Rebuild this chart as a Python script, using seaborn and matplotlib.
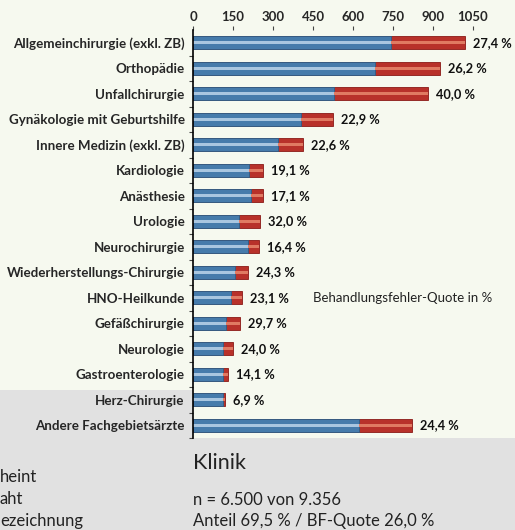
import numpy as np
import pandas as pd
import seaborn as sns

import matplotlib

matplotlib.use("Agg")
import matplotlib.pyplot as plt
from matplotlib.patches import Rectangle
from matplotlib.ticker import FixedLocator

# Fachgebiete and counts (blue = no error, red = error confirmed)
fachgebiete = [
    "Allgemeinchirurgie (exkl. ZB)",
    "Orthopädie",
    "Unfallchirurgie",
    "Gynäkologie mit Geburtshilfe",
    "Innere Medizin (exkl. ZB)",
    "Kardiologie",
    "Anästhesie",
    "Urologie",
    "Neurochirurgie",
    "Wiederherstellungs-Chirurgie",
    "HNO-Heilkunde",
    "Gefäßchirurgie",
    "Neurologie",
    "Gastroenterologie",
    "Herz-Chirurgie",
    "Andere Fachgebietsärzte",
]
ohne_fehler = [741, 683, 529, 405, 320, 211, 217, 171, 207, 156, 141, 124, 114, 113, 111, 622]
mit_fehler = [279, 242, 353, 121, 93, 50, 45, 80, 41, 50, 42, 52, 36, 18, 8, 201]
quote_labels = ["27,4 %", "26,2 %", "40,0 %", "22,9 %", "22,6 %", "19,1 %", "17,1 %", "32,0 %",
                "16,4 %", "24,3 %", "23,1 %", "29,7 %", "24,0 %", "14,1 %", "6,9 %", "24,4 %"]
x_ticks = [0, 150, 300, 450, 600, 750, 900, 1050]

df = pd.DataFrame({"fach": fachgebiete, "blau": ohne_fehler, "rot": mit_fehler})
df["gesamt"] = df["blau"] + df["rot"]

sns.set_style("white")
plt.rcParams["font.family"] = ["Lato", "DejaVu Sans"]

W, H = 515, 530
fig = plt.figure(figsize=(W / 100, H / 100), dpi=100, facecolor="#f6f9ef")

# grey slide area at the bottom (behind the axes)
gray = "#e1e1e1"
fig.patches.append(Rectangle((0, 0), 1, 1 - 438 / H, transform=fig.transFigure,
                             facecolor=gray, edgecolor="none", zorder=-5))
fig.patches.append(Rectangle((0, 1 - 438 / H), 193 / W, 48 / H, transform=fig.transFigure,
                             facecolor=gray, edgecolor="none", zorder=-5))

ax = fig.add_axes([193 / W, 1 - 438 / H, 300 / W, 408 / H])
ax.set_facecolor("none")
ax.set_zorder(2)

bw = 0.5
# base cylinders: total in red, blue on top
sns.barplot(data=df, y="fach", x="gesamt", orient="h", color="#b8312a", width=bw,
            saturation=1, ax=ax, edgecolor="#8a1a16", linewidth=0.6)
sns.barplot(data=df, y="fach", x="blau", orient="h", color="#467bab", width=bw,
            saturation=1, ax=ax, edgecolor="#2e5d86", linewidth=0.6)
# highlight stripes for the tube look
sns.barplot(data=df, y="fach", x="gesamt", orient="h", color="#e07a62", width=0.12,
            saturation=1, ax=ax, linewidth=0)
sns.barplot(data=df, y="fach", x="blau", orient="h", color="#a9c6e0", width=0.12,
            saturation=1, ax=ax, linewidth=0)

for i, (tot, lab) in enumerate(zip(df["gesamt"], quote_labels)):
    ax.text(tot + 30, i, lab, va="center", ha="left", fontsize=9.2, fontweight="bold",
            color="#111111")

ax.text(450, 10, "Behandlungsfehler-Quote in %", va="center", ha="left",
        fontsize=9.5, color="#222222")

ax.set_xlim(0, 1125)
ax.set_ylim(15.5, -0.5)
ax.set_xlabel("")
ax.set_ylabel("")
ax.xaxis.tick_top()
ax.xaxis.set_major_locator(FixedLocator(x_ticks))
ax.tick_params(axis="x", length=3, width=0.8, color="#444444", pad=2,
               labelsize=9.5)
for t in ax.get_xticklabels():
    t.set_fontweight("bold")
ax.tick_params(axis="y", which="major", length=0, pad=6, labelsize=9.6)
for t in ax.get_yticklabels():
    t.set_fontweight("bold")
ax.set_yticks(np.arange(16) + 0.5, minor=True)
ax.tick_params(axis="y", which="minor", length=3, width=0.8, color="#444444", left=True)

for side in ["top", "right", "bottom"]:
    ax.spines[side].set_visible(False)
ax.spines["left"].set_color("black")
ax.spines["left"].set_linewidth(1.2)

# slide texts below the chart
fig.text(193 / W, 1 - 463 / H, "Klinik", fontsize=15.5, va="center", ha="left", color="#222222")
fig.text(193 / W, 1 - 500 / H, "n = 6.500 von 9.356", fontsize=12, va="center", ha="left",
         color="#222222")
fig.text(193 / W, 1 - 521 / H, "Anteil 69,5 % / BF-Quote 26,0 %", fontsize=12, va="center",
         ha="left", color="#222222")
fig.text(0, 1 - 477 / H, "heint", fontsize=12, va="center", ha="left", color="#222222")
fig.text(0, 1 - 499 / H, "aht", fontsize=12, va="center", ha="left", color="#222222")
fig.text(0, 1 - 521 / H, "ezeichnung", fontsize=12, va="center", ha="left", color="#222222")

fig.savefig("out.png", dpi=100, facecolor=fig.get_facecolor())
